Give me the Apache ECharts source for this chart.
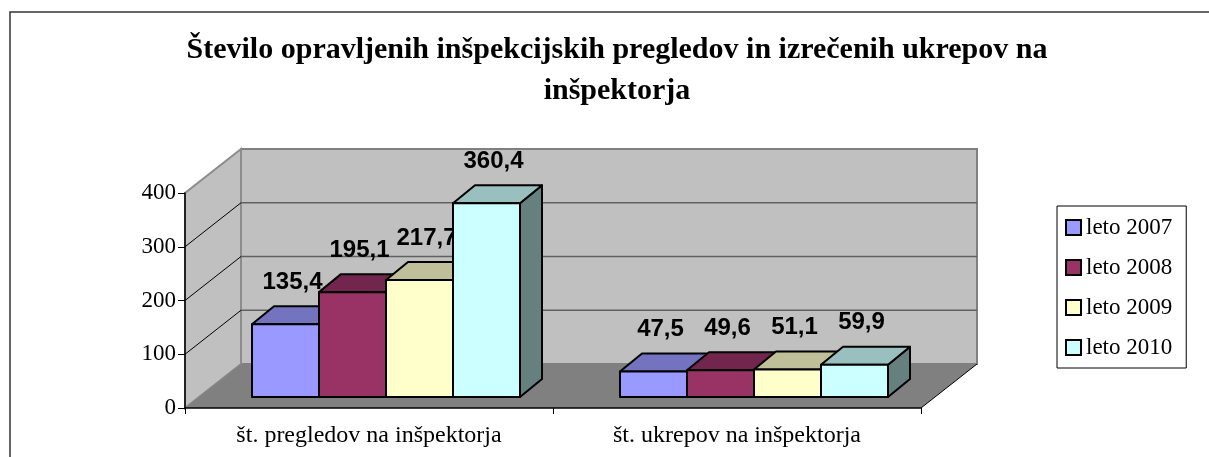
<!DOCTYPE html>
<html><head><meta charset="utf-8">
<script src="https://cdn.jsdelivr.net/npm/echarts@6/dist/echarts.min.js"></script>
<style>html,body{margin:0;padding:0;background:#fff}#c{width:1209px;height:457px}</style>
</head><body><div id="c"></div>
<script>
const categories = ['št. pregledov na inšpektorja', 'št. ukrepov na inšpektorja'];
const seriesNames = ['leto 2007', 'leto 2008', 'leto 2009', 'leto 2010'];
const values2007 = [135.4, 47.5];
const values2008 = [195.1, 49.6];
const values2009 = [217.7, 51.1];
const values2010 = [360.4, 59.9];
const yTicks = [0, 100, 200, 300, 400];
const titleLines = ['Število opravljenih inšpekcijskih pregledov in izrečenih ukrepov na', 'inšpektorja'];

const seriesValues = [values2007, values2008, values2009, values2010];
const frontColors = ['#9999FF', '#993366', '#FFFFCC', '#CCFFFF'];
const topColors = ['#7373BF', '#73264D', '#BFBF99', '#99BFBF'];
const sideColors = ['#5C5C99', '#5C1F3D', '#99997A', '#668080'];

const WALL_DX = 56, WALL_DY = -44;
const BAR_FX = 17, BAR_FY = -11;
const BAR_DX = 22, BAR_DY = -18;
const BAR_FRAC = 67 / 368;

function fmt(v) { return v.toFixed(1).replace('.', ','); }

function renderWalls(params, api) {
  const band = api.size([1, 0])[0];
  const c0 = api.coord([0, 0]);
  const cN = api.coord([categories.length - 1, 0]);
  const L = c0[0] - band / 2, R = cN[0] + band / 2;
  const y0 = c0[1];
  const yMax = api.coord([0, yTicks[yTicks.length - 1]])[1];
  const ch = [];
  ch.push({ type: 'polygon', shape: { points: [[L + WALL_DX, y0 + WALL_DY], [L + WALL_DX, yMax + WALL_DY], [R + WALL_DX, yMax + WALL_DY], [R + WALL_DX, y0 + WALL_DY]] },
    style: { fill: '#C0C0C0', stroke: '#808080', lineWidth: 2 } });
  ch.push({ type: 'polygon', shape: { points: [[L, y0], [L, yMax], [L + WALL_DX, yMax + WALL_DY], [L + WALL_DX, y0 + WALL_DY]] },
    style: { fill: '#C0C0C0', stroke: '#8C8C8C', lineWidth: 2 } });
  ch.push({ type: 'polygon', shape: { points: [[L, y0], [L + WALL_DX, y0 + WALL_DY], [R + WALL_DX, y0 + WALL_DY], [R, y0]] },
    style: { fill: '#808080' } });
  yTicks.forEach(function (t, k) {
    if (k === 0 || k === yTicks.length - 1) return;
    const y = api.coord([0, t])[1];
    ch.push({ type: 'line', shape: { x1: L + WALL_DX, y1: y + WALL_DY, x2: R + WALL_DX, y2: y + WALL_DY }, style: { stroke: '#606060', lineWidth: 1.5 } });
    ch.push({ type: 'line', shape: { x1: L, y1: y, x2: L + WALL_DX, y2: y + WALL_DY }, style: { stroke: '#000', lineWidth: 1 } });
  });
  ch.push({ type: 'line', shape: { x1: R, y1: y0, x2: R + WALL_DX, y2: y0 + WALL_DY }, style: { stroke: '#000', lineWidth: 1 } });
  return { type: 'group', children: ch };
}

function makeBarRender(i) {
  return function (params, api) {
    const cat = api.value(0), v = api.value(1);
    const band = api.size([1, 0])[0];
    const bw = band * BAR_FRAC;
    const base = api.coord([cat, 0]), top = api.coord([cat, v]);
    const x0 = base[0] + (i - seriesValues.length / 2) * bw + BAR_FX;
    const x1 = x0 + bw;
    const yb = base[1] + BAR_FY, yt = top[1] + BAR_FY;
    const st = { stroke: '#000', lineWidth: 2, lineJoin: 'round' };
    return { type: 'group', children: [
      { type: 'polygon', shape: { points: [[x1, yt], [x1 + BAR_DX, yt + BAR_DY], [x1 + BAR_DX, yb + BAR_DY], [x1, yb]] }, style: Object.assign({ fill: sideColors[i] }, st) },
      { type: 'polygon', shape: { points: [[x0, yt], [x0 + BAR_DX, yt + BAR_DY], [x1 + BAR_DX, yt + BAR_DY], [x1, yt]] }, style: Object.assign({ fill: topColors[i] }, st) },
      { type: 'polygon', shape: { points: [[x0, yt], [x1, yt], [x1, yb], [x0, yb]] }, style: Object.assign({ fill: frontColors[i] }, st) },
      { type: 'text', x: x0 + bw / 2 + BAR_DX / 2 - 4, y: yt + BAR_DY / 2 - 33,
        style: { text: fmt(v), fontFamily: '"Liberation Sans", Arial, sans-serif', fontWeight: 'bold', fontSize: 24, fill: '#000', align: 'center', verticalAlign: 'middle' } }
    ] };
  };
}

const series = [{
  type: 'custom', name: 'walls', z: 1, silent: true,
  data: [[0, 0]], encode: { x: 0, y: 1 }, renderItem: renderWalls
}];
seriesValues.forEach(function (vals, i) {
  series.push({
    type: 'custom', name: seriesNames[i], z: 5 + i,
    itemStyle: { color: frontColors[i] },
    data: vals.map(function (v, c) { return [c, v]; }),
    encode: { x: 0, y: 1 },
    renderItem: makeBarRender(i)
  });
});

const chart = echarts.init(document.getElementById('c'), null, { renderer: 'canvas' });
chart.setOption({
  animation: false,
  backgroundColor: '#fff',
  grid: { left: 185, top: 193, width: 736, height: 215 },
  xAxis: {
    type: 'category', data: categories, boundaryGap: true, z: 3,
    axisLine: { lineStyle: { color: '#000', width: 1.5 } },
    axisTick: { show: true, length: 6, interval: 0, lineStyle: { color: '#000', width: 1 } },
    axisLabel: { fontFamily: '"Liberation Serif", "Times New Roman", serif', fontSize: 24, color: '#000', margin: 16, interval: 0 },
    splitLine: { show: false }
  },
  yAxis: {
    type: 'value', min: yTicks[0], max: yTicks[yTicks.length - 1], interval: 100, z: 3,
    axisLine: { show: true, lineStyle: { color: '#000', width: 1.5 } },
    axisTick: { show: true, length: 7, lineStyle: { color: '#000', width: 1 } },
    axisLabel: { fontFamily: '"Liberation Serif", "Times New Roman", serif', fontSize: 23, color: '#000', margin: 9 },
    splitLine: { show: false }
  },
  legend: {
    orient: 'vertical', left: 1057, top: 206, selectedMode: false,
    data: seriesNames.map(function (n, i) { return { name: n, itemStyle: { color: frontColors[i], borderColor: '#000', borderWidth: 2 } }; }),
    icon: 'rect', itemWidth: 15, itemHeight: 15, itemGap: 17,
    padding: [10, 14, 9, 8], borderColor: '#000', borderWidth: 1,
    textStyle: { fontFamily: '"Liberation Serif", "Times New Roman", serif', fontSize: 23, color: '#000', lineHeight: 22 }
  },
  graphic: [
    { type: 'rect', shape: { x: 10, y: 12, width: 1240, height: 470 }, style: { fill: 'none', stroke: '#333', lineWidth: 1.5 }, silent: true },
    { type: 'text', x: 617, y: 30, style: { text: titleLines.join('\n'), fontFamily: '"Liberation Serif", "Times New Roman", serif', fontWeight: 'bold', fontSize: 30, lineHeight: 41, fill: '#000', align: 'center', verticalAlign: 'top' } }
  ],
  series: series
});
</script>
</body></html>
